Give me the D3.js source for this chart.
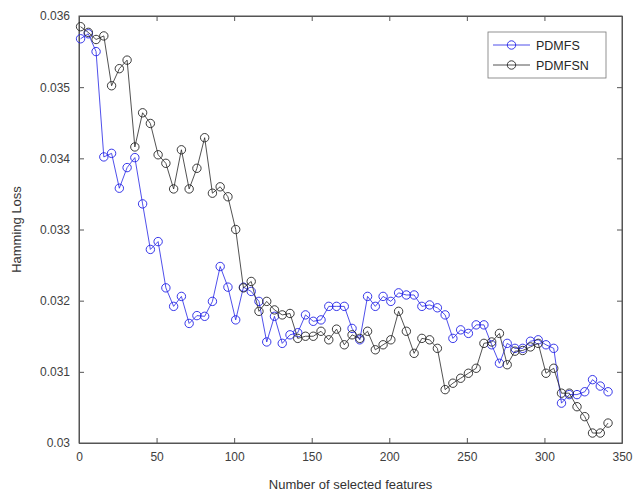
<!DOCTYPE html>
<html><head><meta charset="utf-8">
<script src="https://cdn.jsdelivr.net/npm/d3@7"></script>
<style>body{margin:0;background:#fff}svg{display:block}text{font-family:"Liberation Sans",Arial,sans-serif}</style>
</head><body><svg id="c" width="635" height="497"></svg>
<script>
const xStart = 1, xStep = 5;
const pdmfs = [0.03568,0.03575,0.03550,0.03402,0.03407,0.03358,0.03387,0.03401,0.03336,0.03272,
0.03283,0.03218,0.03192,0.03206,0.03168,0.03179,0.03178,0.03199,0.03248,0.03219,
0.03173,0.03219,0.03213,0.03199,0.03142,0.03178,0.03140,0.03152,0.03155,0.03180,
0.03171,0.03173,0.03192,0.03192,0.03192,0.03161,0.03145,0.03206,0.03192,0.03206,
0.03199,0.03211,0.03208,0.03208,0.03192,0.03194,0.03190,0.03180,0.03147,0.03159,
0.03154,0.03166,0.03166,0.03138,0.03112,0.03140,0.03133,0.03133,0.03143,0.03145,
0.03138,0.03133,0.03056,0.03068,0.03068,0.03072,0.03089,0.03080,0.03072];
const pdmfsn = [0.03585,0.03577,0.03567,0.03572,0.03502,0.03526,0.03538,0.03416,0.03464,0.03449,
0.03405,0.03393,0.03357,0.03412,0.03357,0.03386,0.03429,0.03351,0.03360,0.03346,
0.03300,0.03218,0.03227,0.03185,0.03199,0.03187,0.03180,0.03182,0.03147,0.03150,
0.03150,0.03157,0.03145,0.03160,0.03138,0.03152,0.03147,0.03157,0.03131,0.03138,
0.03145,0.03185,0.03157,0.03126,0.03147,0.03145,0.03133,0.03075,0.03084,0.03091,
0.03098,0.03105,0.03140,0.03142,0.03154,0.03110,0.03129,0.03130,0.03135,0.03140,
0.03098,0.03105,0.03070,0.03070,0.03051,0.03037,0.03014,0.03014,0.03028];
const xTicks = [0,50,100,150,200,250,300,350];
const yTicks = [0.03,0.031,0.032,0.033,0.034,0.035,0.036];
const yTickLabels = ["0.03","0.031","0.032","0.033","0.034","0.035","0.036"];
const seriesNames = ["PDMFS","PDMFSN"];
const seriesColors = ["#2323e6","#262626"];

const svg = d3.select("#c");
const L=79, R=622, T=16, B=443;
const x = d3.scaleLinear().domain([0,350]).range([L,R]);
const y = d3.scaleLinear().domain([0.030,0.036]).range([B,T]);
const axisCol = "#555";

// box
svg.append("rect").attr("x",L).attr("y",T).attr("width",R-L).attr("height",B-T)
  .attr("fill","#fff").attr("stroke",axisCol).attr("stroke-width",1);

const fmtY = d => yTickLabels[yTicks.indexOf(d)];
const gx = svg.append("g").attr("transform",`translate(0,${B})`)
  .call(d3.axisBottom(x).tickValues(xTicks).tickSizeInner(-5).tickSizeOuter(0).tickPadding(9));
const gxt = svg.append("g").attr("transform",`translate(0,${T})`)
  .call(d3.axisTop(x).tickValues(xTicks).tickSizeInner(-5).tickSizeOuter(0).tickFormat(""));
const gy = svg.append("g").attr("transform",`translate(${L},0)`)
  .call(d3.axisLeft(y).tickValues(yTicks).tickSizeInner(-5).tickSizeOuter(0).tickPadding(9).tickFormat(fmtY));
const gyr = svg.append("g").attr("transform",`translate(${R},0)`)
  .call(d3.axisRight(y).tickValues(yTicks).tickSizeInner(-5).tickSizeOuter(0).tickFormat(""));
[gx,gxt,gy,gyr].forEach(g=>{
  g.select(".domain").attr("stroke",axisCol);
  g.selectAll(".tick line").attr("stroke",axisCol);
  g.selectAll("text").attr("fill","#404040").style("font-size","12px").style("font-family",'"Liberation Sans",Arial,sans-serif');
});

// axis labels
svg.append("text").attr("x",(L+R)/2).attr("y",489).attr("text-anchor","middle")
  .attr("fill","#333").style("font-size","13px").text("Number of selected features");
svg.append("text").attr("transform",`translate(21,${(T+B)/2}) rotate(-90)`).attr("text-anchor","middle")
  .attr("fill","#333").style("font-size","13px").text("Hamming Loss");

const allSeries = [pdmfs, pdmfsn];
const line = d3.line().x((d,i)=>x(xStart+i*xStep)).y(d=>y(d));
// draw black first then blue? draw in order: blue then black
allSeries.forEach((s,si)=>{
  const g = svg.append("g");
  g.append("path").datum(s).attr("d",line).attr("fill","none").attr("stroke",seriesColors[si]).attr("stroke-width",0.8);
  g.selectAll("circle").data(s).join("circle")
    .attr("cx",(d,i)=>x(xStart+i*xStep)).attr("cy",d=>y(d)).attr("r",4.2)
    .attr("fill","none").attr("stroke",seriesColors[si]).attr("stroke-width",0.9);
});

// legend
const lg = svg.append("g");
lg.append("rect").attr("x",488).attr("y",32).attr("width",118).attr("height",46)
  .attr("fill","#fff").attr("stroke","#777").attr("stroke-width",0.8);
seriesNames.forEach((n,i)=>{
  const yy = 45 + i*20;
  lg.append("line").attr("x1",493).attr("x2",530).attr("y1",yy).attr("y2",yy).attr("stroke",seriesColors[i]).attr("stroke-width",0.8);
  lg.append("circle").attr("cx",511.5).attr("cy",yy).attr("r",4.2).attr("fill","none").attr("stroke",seriesColors[i]).attr("stroke-width",0.9);
  lg.append("text").attr("x",536).attr("y",yy+4.5).attr("fill","#262626").style("font-size","12.5px").text(n);
});
</script></body></html>
